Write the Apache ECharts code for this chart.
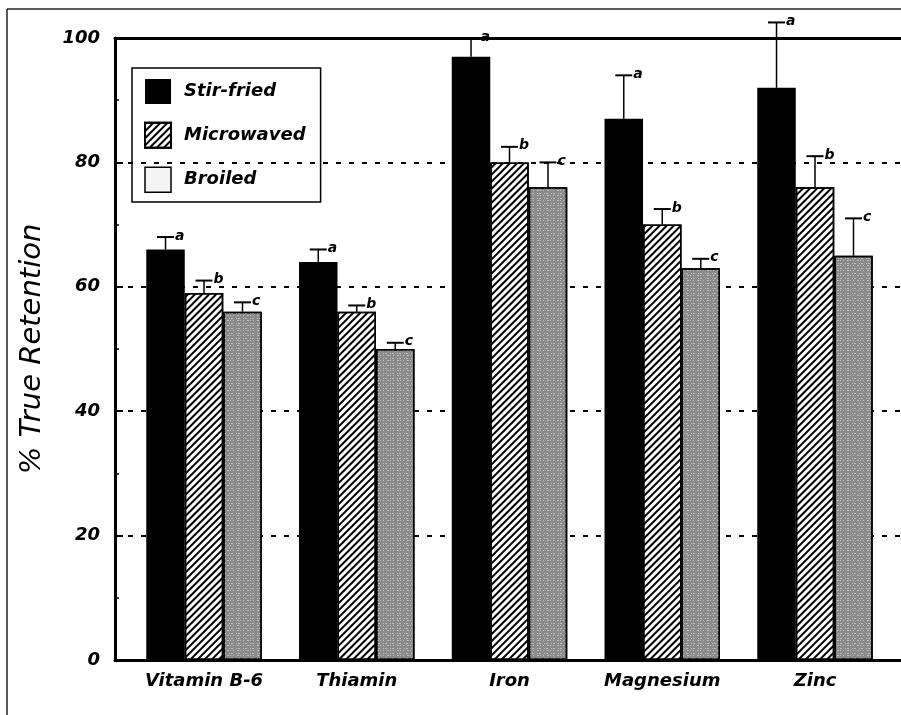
<!DOCTYPE html>
<html><head><meta charset="utf-8">
<script src="https://cdn.jsdelivr.net/npm/echarts@6/dist/echarts.min.js"></script>
<style>html,body{margin:0;padding:0;background:#fff}#c{width:901px;height:715px}</style>
</head><body><div id="c"></div>
<script>
// ---- data ----
const categories = ['Vitamin B-6', 'Thiamin', 'Iron', 'Magnesium', 'Zinc'];
const methods = ['Stir-fried', 'Microwaved', 'Broiled'];
const stirFried = [66, 64, 97, 87, 92];
const microwaved = [59, 56, 80, 70, 76];
const broiled = [56, 50, 76, 63, 65];
const stirFriedErr = [2, 2, 3, 7, 10.5];
const microwavedErr = [2, 1, 2.5, 2.5, 5];
const broiledErr = [1.5, 1, 4, 1.5, 6];
const sigLetters = ['a', 'b', 'c'];
const yMin = 0, yMax = 100, yStep = 20;

// ---- layout/style ----
const FONT = '"DejaVu Sans"';
const CAT_GAP = 0.244;
const GRID_W = 786;
const X_MIN = -0.5827, X_MAX = X_MIN + GRID_W / 152.75;

const valueSets = [stirFried, microwaved, broiled];
const errSets = [stirFriedErr, microwavedErr, broiledErr];

const barStyles = [
  { color: '#000' },
  { color: '#fff', borderColor: '#000', borderWidth: 1.5,
    decal: { symbol: 'rect', symbolSize: 1, dashArrayX: [1, 0], dashArrayY: [2, 3], rotation: -Math.PI / 4, color: '#000' } },
  { color: '#8a8a8a', borderColor: '#000', borderWidth: 1.5,
    decal: { symbol: 'rect', symbolSize: 1, dashArrayX: [[1, 2, 1, 3, 2, 1], [2, 3, 1, 1]], dashArrayY: [1, 2, 1, 1], color: 'rgba(230,230,230,0.55)' } }
];

function barSeries(k) {
  return {
    type: 'bar', name: methods[k],
    data: valueSets[k].map((v, i) => [i, v]),
    barGap: '0%', barCategoryGap: (CAT_GAP * 100) + '%',
    itemStyle: barStyles[k], z: 2, silent: true
  };
}

function errSeries(k) {
  return {
    type: 'custom', name: methods[k] + ' err', silent: true, z: 5, clip: false,
    data: valueSets[k].map((v, i) => [i, v, errSets[k][i]]),
    encode: { x: 0, y: 1 },
    renderItem(params, api) {
      const i = api.value(0), m = api.value(1), e = api.value(2);
      const base = api.coord([i, m]);
      const top = api.coord([i, m + e]);
      const band = api.size([1, 0])[0];
      const bw = band * (1 - CAT_GAP) / 3;
      const cx = base[0] + (k - 1) * bw;
      const capW = 8.5;
      return {
        type: 'group', children: [
          { type: 'line', shape: { x1: cx, y1: base[1], x2: cx, y2: top[1] }, style: { stroke: '#000', lineWidth: 1.5 } },
          { type: 'line', shape: { x1: cx - capW, y1: top[1], x2: cx + capW, y2: top[1] }, style: { stroke: '#000', lineWidth: 2 } },
          { type: 'text', x: cx + capW + 1, y: top[1] - 1,
            style: { text: sigLetters[k], fill: '#000', font: 'italic bold 14px ' + FONT, align: 'left', verticalAlign: 'middle' } }
        ]
      };
    }
  };
}

const xLine = { show: true, onZero: false, lineStyle: { color: '#000', width: 3 } };

const chart = echarts.init(document.getElementById('c'), null, { renderer: 'canvas' });
chart.setOption({
  backgroundColor: '#fff',
  animation: false,
  graphic: [
    { type: 'line', shape: { x1: 7, y1: 9, x2: 901, y2: 9 }, style: { stroke: '#222', lineWidth: 1.5 } },
    { type: 'line', shape: { x1: 7, y1: 9, x2: 7, y2: 715 }, style: { stroke: '#222', lineWidth: 1.5 } }
  ],
  grid: { left: 115, top: 38, width: GRID_W, height: 622, show: false },
  legend: {
    orient: 'vertical', left: 132, top: 68, icon: 'rect', itemWidth: 26, itemHeight: 25, itemGap: 17.7,
    padding: [11, 15, 9, 12], borderColor: '#000', borderWidth: 1.5, selectedMode: false,
    textStyle: { fontFamily: FONT, fontStyle: 'italic', fontWeight: 'bold', fontSize: 18, color: '#000', padding: [0, 0, 0, 8] },
    data: [
      { name: methods[0] },
      { name: methods[1] },
      { name: methods[2], itemStyle: { color: '#f4f4f4', borderColor: '#000', borderWidth: 1.5, decal: 'none' } }
    ]
  },
  xAxis: [{
    type: 'value', min: X_MIN, max: X_MAX, position: 'bottom',
    axisLine: xLine, axisTick: { show: false }, splitLine: { show: false },
    axisLabel: {
      customValues: categories.map((c, i) => i),
      formatter: v => categories[Math.round(v)] || '',
      margin: 12, fontFamily: FONT, fontStyle: 'italic', fontWeight: 'bold', fontSize: 18, color: '#000'
    }
  }, {
    type: 'value', min: X_MIN, max: X_MAX, position: 'top',
    axisLine: xLine, axisTick: { show: false }, splitLine: { show: false }, axisLabel: { show: false }
  }],
  yAxis: {
    type: 'value', min: yMin, max: yMax, interval: yStep,
    name: '% True Retention', nameLocation: 'middle', nameGap: 68,
    nameTextStyle: { fontFamily: FONT, fontStyle: 'italic', fontSize: 29, color: '#000' },
    axisLine: { show: true, onZero: false, lineStyle: { color: '#000', width: 3 } },
    axisTick: { show: true, inside: true, length: 8, lineStyle: { color: '#000', width: 2 } },
    minorTick: { show: true, splitNumber: 2, length: 4, lineStyle: { color: '#000', width: 1.5 } },
    splitLine: { show: true, lineStyle: { color: '#000', width: 2, type: [5, 8] } },
    axisLabel: { margin: 15, fontFamily: FONT, fontStyle: 'italic', fontWeight: 'bold', fontSize: 18, color: '#000' }
  },
  series: [barSeries(0), barSeries(1), barSeries(2), errSeries(0), errSeries(1), errSeries(2)]
});
</script></body></html>
